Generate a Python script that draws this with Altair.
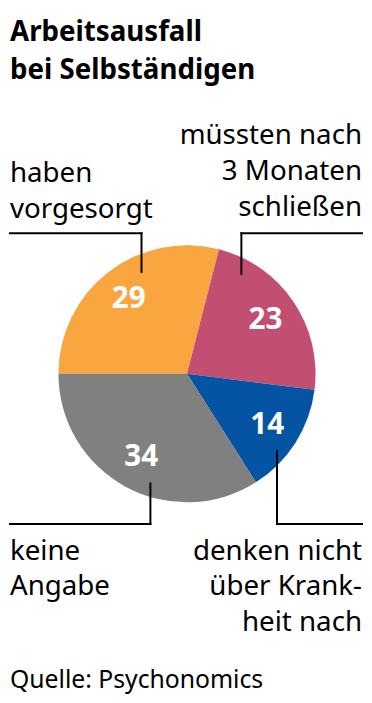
import math
import altair as alt
import pandas as pd

# ---- data ----
categories = ["haben vorgesorgt", "müssten nach 3 Monaten schließen",
              "denken nicht über Krankheit nach", "keine Angabe"]
values = [29, 23, 14, 34]
order = [1, 2, 3, 4]
colors = ["#F9A540", "#C24F72", "#0454A3", "#808080"]

title_lines = ["Arbeitsausfall", "bei Selbständigen"]
source_text = "Quelle: Psychonomics"

df = pd.DataFrame({"cat": categories, "val": values, "ord": order})

FONT = "Noto Sans"
CX, CY, R = 179, 366, 130

theta = alt.Theta("val:Q", stack=True,
                  scale=alt.Scale(range=[1.5 * math.pi, 3.5 * math.pi]))
color = alt.Color("cat:N", scale=alt.Scale(domain=categories, range=colors), legend=None)

base = alt.Chart(df)
pie = base.mark_arc(radius=R, stroke=None).encode(
    theta=theta, color=color, order=alt.Order("ord:Q"),
    x=alt.value(CX), y=alt.value(CY))
nums = base.mark_text(radius=96, font=FONT, fontSize=30, fontWeight="bold",
                      color="white", baseline="middle", align="center").encode(
    theta=theta, order=alt.Order("ord:Q"), text="val:Q",
    x=alt.value(CX), y=alt.value(CY))

one = alt.Chart(pd.DataFrame({"k": [0]}))


def rule(x1, y1, x2, y2):
    return one.mark_rule(color="black", strokeWidth=2, strokeCap="square").encode(
        x=alt.value(x1), y=alt.value(y1), x2=alt.value(x2), y2=alt.value(y2))


def label(lines, x, y, align="left", size=28, weight=400, lh=36,
          baseline="alphabetic"):
    return one.mark_text(font=FONT, fontSize=size, fontWeight=weight, align=align,
                         baseline=baseline, lineHeight=lh, color="black").encode(
        x=alt.value(x), y=alt.value(y), text=alt.value(lines))


leaders = [
    rule(0, 224, 133, 224), rule(133, 224, 133, 263),
    rule(234, 224, 356, 224), rule(234, 224, 234, 265),
    rule(0, 518, 142, 518), rule(142, 477, 142, 518),
    rule(270, 518, 356, 518), rule(270, 444, 270, 518),
]

texts = [
    label(title_lines, 0, 30, size=28, weight="bold", lh=38),
    label(["haben", "vorgesorgt"], 0, 172),
    label(["müssten nach", "3 Monaten", "schließen"], 356, 134, align="right"),
    label(["keine", "Angabe"], 0, 554),
    label(["denken nicht", "über Krank-", "heit nach"], 356, 554, align="right"),
    label([source_text], 0, 684, size=25),
]

chart = alt.layer(pie, nums, *leaders, *texts).properties(
    width=356, height=687, padding=0
).configure_view(stroke=None)

chart.save("out.html", embed_options={"renderer": "svg", "actions": False})
